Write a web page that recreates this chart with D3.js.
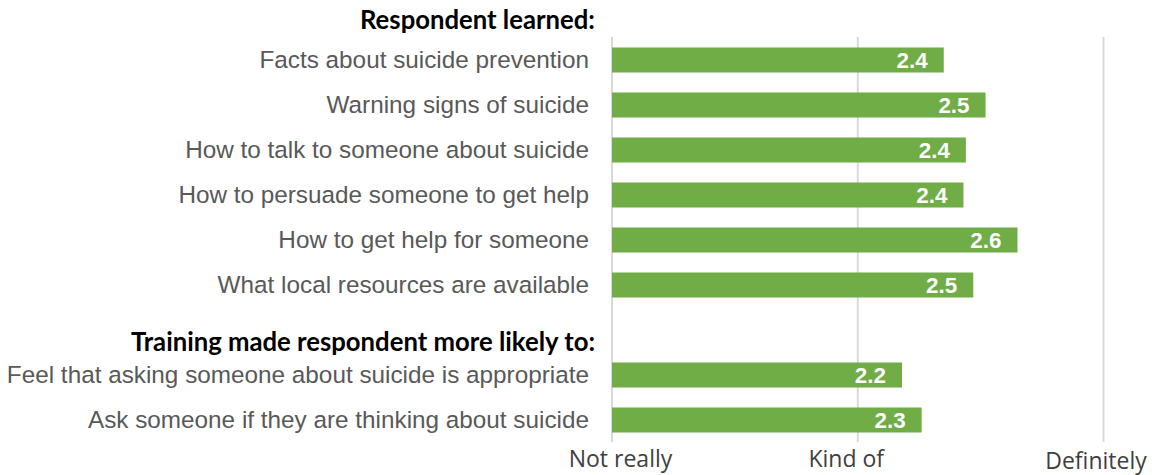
<!DOCTYPE html>
<html>
<head>
<meta charset="utf-8">
<script src="https://cdn.jsdelivr.net/npm/d3@7"></script>
<style>
  html, body { margin: 0; padding: 0; background: #fff; }
  svg { display: block; }
</style>
</head>
<body>
<svg id="chart" width="1158" height="475"></svg>
<script>
// ---- data ----
const categories = [
  "Facts about suicide prevention",
  "Warning signs of suicide",
  "How to talk to someone about suicide",
  "How to persuade someone to get help",
  "How to get help for someone",
  "What local resources are available",
  "",
  "Feel that asking someone about suicide is appropriate",
  "Ask someone if they are thinking about suicide"
];
const values = [2.35, 2.52, 2.44, 2.43, 2.65, 2.47, null, 2.18, 2.26];
const valueLabels = ["2.4", "2.5", "2.4", "2.4", "2.6", "2.5", "", "2.2", "2.3"];
const groupHeaders = ["Respondent learned:", "Training made respondent more likely to:"];
const tickValues = [1, 2, 3];
const tickLabels = ["Not really", "Kind of", "Definitely"];

// ---- layout ----
const svg = d3.select("#chart");
const x = d3.scaleLinear().domain([1, 3]).range([612, 1103.5]);
const y = d3.scaleBand()
  .domain(categories.map((c, i) => i))
  .range([37.5, 442.5])
  .paddingInner(0.444)
  .paddingOuter(0.222);

const green = "#70AD47";
const labelColor = "#595959";

// gridlines
svg.append("g").selectAll("line")
  .data(tickValues)
  .join("line")
  .attr("x1", d => x(d)).attr("x2", d => x(d))
  .attr("y1", 37).attr("y2", 442)
  .attr("stroke", "#D9D9D9")
  .attr("stroke-width", 2);

// x axis labels
const xAxis = d3.axisBottom(x)
  .tickValues(tickValues)
  .tickFormat((d, i) => tickLabels[i])
  .tickSize(0)
  .tickPadding(0);
const gx = svg.append("g").attr("transform", "translate(0,451)").call(xAxis);
gx.select(".domain").remove();
const tickShift = [[8, 0], [-12, 0], [-8, 2]];
gx.selectAll(".tick text")
  .attr("font-family", "'Open Sans', 'Noto Sans', sans-serif")
  .attr("font-size", 23)
  .attr("fill", "#404040")
  .attr("dy", (d, i) => (0.71 + tickShift[i][1] / 23) + "em")
  .attr("dx", (d, i) => tickShift[i][0]);

// category labels
const yAxis = d3.axisLeft(y)
  .tickFormat(i => categories[i])
  .tickSize(0)
  .tickPadding(0);
const gy = svg.append("g").attr("transform", "translate(589,0)").call(yAxis);
gy.select(".domain").remove();
gy.selectAll(".tick text")
  .attr("font-family", "'Liberation Sans', Arial, sans-serif")
  .attr("font-size", 24.3)
  .attr("fill", labelColor);

// bars
const rows = categories.map((c, i) => ({ i, v: values[i], lab: valueLabels[i] })).filter(d => d.v != null);
svg.append("g").selectAll("rect")
  .data(rows)
  .join("rect")
  .attr("x", x(1))
  .attr("y", d => y(d.i))
  .attr("width", d => x(d.v) - x(1))
  .attr("height", y.bandwidth())
  .attr("fill", green);

// value labels
svg.append("g").selectAll("text")
  .data(rows)
  .join("text")
  .attr("x", d => x(d.v) - 16)
  .attr("y", d => y(d.i) + y.bandwidth() / 2)
  .attr("dy", "0.36em")
  .attr("text-anchor", "end")
  .attr("font-family", "'Liberation Sans', Arial, sans-serif")
  .attr("font-weight", "bold")
  .attr("font-size", 22.4)
  .attr("fill", "#fff")
  .text(d => d.lab);

// group headers
const headerRows = [0, 7];
const headerOffsets = [-18.5, -11.5];
svg.append("g").selectAll("text")
  .data(groupHeaders)
  .join("text")
  .attr("x", 595)
  .attr("y", (d, k) => y(headerRows[k]) + headerOffsets[k])
  .attr("text-anchor", "end")
  .attr("font-family", "Lato, 'Open Sans', sans-serif")
  .attr("font-weight", "bold")
  .attr("font-size", 25.7)
  .attr("fill", "#000")
  .text(d => d);
</script>
</body>
</html>
